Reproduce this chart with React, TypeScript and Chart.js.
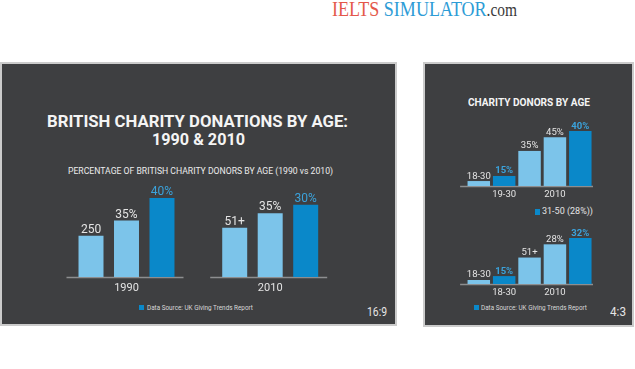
import React, { useEffect, useRef } from "react";
import { Chart, registerables } from "chart.js";

Chart.register(...registerables);

// ---------------- data ----------------
const wideCategories = ["1990", "2010"];
const wideBarA = [20.9, 25.0];
const wideBarB = [28.6, 32.3];
const wideBarC = [40, 36.6];
const wideLabelsA = ["250", "51+"];
const wideLabelsB = ["35%", "35%"];
const wideLabelsC = ["40%", "30%"];

const narrowTopCategories = ["", "19-30", "", "2010", ""];
const narrowTopValues = [3.6, 7.3, 25.5, 35.4, 40];
const narrowTopLabels = ["18-30", "15%", "35%", "45%", "40%"];

const narrowBottomCategories = ["", "18-30", "", "2010", ""];
const narrowBottomValues = [2.8, 5.5, 18.4, 27.6, 32];
const narrowBottomLabels = ["18-30", "15%", "51+", "28%", "32%"];

const narrowHighlight = [false, true, false, false, true];

// ---------------- styles ----------------
const LIGHT = "#7cc4ea";
const DARK = "#0a88c9";
const TEXT = "#e4e4e4";
const HIGHLIGHT = "#3ba3dc";
const BASE = "#8d8e90";
const PANEL = "#3e3f41";
const BORDER = "#cbcbcb";

const measureCtx: CanvasRenderingContext2D | null =
  typeof document !== "undefined" ? document.createElement("canvas").getContext("2d") : null;

function textWidth(text: string, font: string) {
  if (!measureCtx) return text.length * 6;
  measureCtx.font = font;
  return measureCtx.measureText(text).width;
}

function FitText(props: {
  text: string;
  cx?: number;
  left?: number;
  capTop: number;
  size: number;
  weight?: number;
  color: string;
  width: number;
}) {
  const { text, cx, left, capTop, size, weight = 400, color, width } = props;
  const natural = textWidth(text, `${weight} ${size}px Roboto`);
  const s = width / natural;
  const x = cx !== undefined ? cx - width / 2 : (left as number);
  return (
    <div
      style={{
        position: "absolute",
        left: x,
        top: capTop - 0.131 * size,
        whiteSpace: "nowrap",
        fontFamily: "Roboto",
        fontSize: size,
        fontWeight: weight,
        lineHeight: `${size}px`,
        color,
        transformOrigin: "0 0",
        transform: `scaleX(${s})`,
      }}
    >
      {text}
    </div>
  );
}

const barTextPlugin = {
  id: "barText",
  afterDatasetsDraw(chart: any, _args: any, opts: any) {
    const { ctx } = chart;
    ctx.save();
    ctx.textAlign = "center";
    ctx.textBaseline = "alphabetic";
    chart.data.datasets.forEach((_ds: any, di: number) => {
      const meta = chart.getDatasetMeta(di);
      meta.data.forEach((el: any, i: number) => {
        const label = opts.labels[di][i];
        const hi = opts.highlight[di][i];
        ctx.fillStyle = hi ? opts.highlightColor : opts.color;
        ctx.font = `${hi ? opts.highlightWeight : 400} ${opts.size}px Roboto`;
        ctx.fillText(label, el.x, el.y - opts.gap);
      });
    });
    ctx.restore();
  },
};

const baseLinePlugin = {
  id: "baseLine",
  beforeDatasetsDraw(chart: any, _args: any, opts: any) {
    const { ctx, chartArea, scales } = chart;
    ctx.save();
    ctx.strokeStyle = opts.color;
    ctx.lineWidth = opts.width;
    const y = chartArea.bottom + 0.5;
    ctx.beginPath();
    if (opts.perCategory) {
      const n = chart.data.labels.length;
      for (let i = 0; i < n; i++) {
        const cx = scales.x.getPixelForTick(i);
        ctx.moveTo(cx - opts.before, y);
        ctx.lineTo(cx + opts.after, y);
      }
    } else {
      ctx.moveTo(chartArea.left - opts.before, y);
      ctx.lineTo(chartArea.right + opts.after, y);
    }
    ctx.stroke();
    ctx.restore();
  },
};

function BarCanvas(props: { left: number; top: number; width: number; height: number; config: any }) {
  const ref = useRef<HTMLCanvasElement | null>(null);
  useEffect(() => {
    const chart = new Chart(ref.current as HTMLCanvasElement, props.config);
    return () => chart.destroy();
  }, []);
  return (
    <canvas
      ref={ref}
      width={props.width}
      height={props.height}
      style={{ position: "absolute", left: props.left, top: props.top, width: props.width, height: props.height, display: "block" }}
    />
  );
}

function xScale(size: number, padding: number, axisHeight: number) {
  return {
    grid: { display: false, drawTicks: false },
    border: { display: false },
    ticks: { color: TEXT, font: { family: "Roboto", size }, padding, autoSkip: false, maxRotation: 0 },
    afterFit: (s: any) => {
      s.height = axisHeight;
    },
  };
}

const wideConfig = {
  type: "bar",
  data: {
    labels: wideCategories,
    datasets: [
      { data: wideBarA, backgroundColor: LIGHT, barPercentage: 0.704, categoryPercentage: 0.741 },
      { data: wideBarB, backgroundColor: LIGHT, barPercentage: 0.704, categoryPercentage: 0.741 },
      { data: wideBarC, backgroundColor: DARK, barPercentage: 0.704, categoryPercentage: 0.741 },
    ],
  },
  options: {
    animation: false,
    responsive: false,
    layout: { padding: { left: 4.65, right: 7.95, top: 18, bottom: 0 } },
    plugins: {
      legend: { display: false },
      tooltip: { enabled: false },
      barText: {
        labels: [wideLabelsA, wideLabelsB, wideLabelsC],
        highlight: [
          [false, false],
          [false, false],
          [true, true],
        ],
        color: TEXT,
        highlightColor: HIGHLIGHT,
        highlightWeight: 400,
        size: 12,
        gap: 3,
      },
      baseLine: { perCategory: true, before: 60, after: 57, color: BASE, width: 1.5 },
    },
    scales: {
      x: xScale(11, 5, 23),
      y: { display: false, min: 0, max: 40 },
    },
  },
  plugins: [barTextPlugin, baseLinePlugin],
};

function narrowConfig(labels: string[], values: number[], barLabels: string[], max: number) {
  return {
    type: "bar",
    data: {
      labels,
      datasets: [
        {
          data: values,
          backgroundColor: narrowHighlight.map((h) => (h ? DARK : LIGHT)),
          barPercentage: 0.886,
          categoryPercentage: 1,
        },
      ],
    },
    options: {
      animation: false,
      responsive: false,
      layout: { padding: { left: 11.1, right: 7, top: 16, bottom: 0 } },
      plugins: {
        legend: { display: false },
        tooltip: { enabled: false },
        barText: {
          labels: [barLabels],
          highlight: [narrowHighlight],
          color: TEXT,
          highlightColor: HIGHLIGHT,
          highlightWeight: 700,
          size: 9.5,
          gap: 2.5,
        },
        baseLine: { perCategory: false, before: 6, after: 0, color: BASE, width: 1.5 },
      },
      scales: {
        x: xScale(9.5, 3, 14),
        y: { display: false, min: 0, max },
      },
    },
    plugins: [barTextPlugin, baseLinePlugin],
  };
}

const topConfig = narrowConfig(narrowTopCategories, narrowTopValues, narrowTopLabels, 40);
const bottomConfig = narrowConfig(narrowBottomCategories, narrowBottomValues, narrowBottomLabels, 32);

function Square(props: { left: number; top: number }) {
  return (
    <div style={{ position: "absolute", left: props.left, top: props.top, width: 5.5, height: 5.5, background: DARK }} />
  );
}

export default function App() {
  const brand = [
    { t: "IELTS", c: "#e4574a", s: 21 },
    { t: " SIMULATOR", c: "#2d9cd6", s: 21 },
    { t: ".com", c: "#3a3a3a", s: 18 },
  ];
  const brandNatural = brand.reduce((a, b) => a + textWidth(b.t, `400 ${b.s}px "Liberation Serif"`), 0);
  const brandScale = 185 / brandNatural;

  return (
    <div
      style={{
        position: "absolute",
        left: 0,
        top: 0,
        width: 635,
        height: 369,
        background: "#ffffff",
        overflow: "hidden",
      }}
    >
      <div
        style={{
          position: "absolute",
          left: 332,
          top: -1,
          fontFamily: '"Liberation Serif"',
          fontSize: 21,
          lineHeight: "21px",
          whiteSpace: "nowrap",
          transformOrigin: "0 0",
          transform: `scaleX(${brandScale})`,
        }}
      >
        {brand.map((b) => (
          <span key={b.t} style={{ color: b.c, fontSize: b.s }}>
            {b.t}
          </span>
        ))}
      </div>

      {/* left 16:9 panel */}
      <div
        style={{
          position: "absolute",
          left: 0,
          top: 62,
          width: 397,
          height: 264,
          boxSizing: "border-box",
          border: `2px solid ${BORDER}`,
          background: PANEL,
        }}
      />
      <FitText text="BRITISH CHARITY DONATIONS BY AGE:" cx={197.5} capTop={115} size={17} weight={700} color="#f4f4f4" width={301} />
      <FitText text="1990 & 2010" cx={198.5} capTop={133} size={17} weight={700} color="#f4f4f4" width={93} />
      <FitText
        text="PERCENTAGE OF BRITISH CHARITY DONORS BY AGE (1990 vs 2010)"
        cx={200.5}
        capTop={168}
        size={9}
        color="#ececec"
        width={265}
      />
      <BarCanvas left={50} top={180} width={300} height={120} config={wideConfig} />
      <Square left={138.5} top={304.5} />
      <FitText text="Data Source: UK Giving Trends Report" left={147} capTop={305} size={8} color="#d8d8d8" width={106} />
      <FitText text="16:9" left={367} capTop={308} size={12.5} color="#e6e6e6" width={20} />

      {/* right 4:3 panel */}
      <div
        style={{
          position: "absolute",
          left: 423,
          top: 62,
          width: 211,
          height: 265,
          boxSizing: "border-box",
          border: `2px solid ${BORDER}`,
          background: PANEL,
        }}
      />
      <FitText text="CHARITY DONORS BY AGE" cx={529} capTop={98} size={11} weight={700} color="#f4f4f4" width={122} />
      <BarCanvas left={455} top={115} width={145} height={85} config={topConfig} />
      <Square left={534.5} top={209} />
      <FitText text="31-50 (28%))" left={541.5} capTop={208.5} size={9} color="#e4e4e4" width={51} />
      <BarCanvas left={455} top={222} width={145} height={76} config={bottomConfig} />
      <Square left={473.5} top={304.5} />
      <FitText text="Data Source: UK Giving Trends Report" left={481} capTop={305} size={8} color="#d8d8d8" width={106} />
      <FitText text="4:3" left={610} capTop={308} size={12.5} color="#e6e6e6" width={16} />
    </div>
  );
}
